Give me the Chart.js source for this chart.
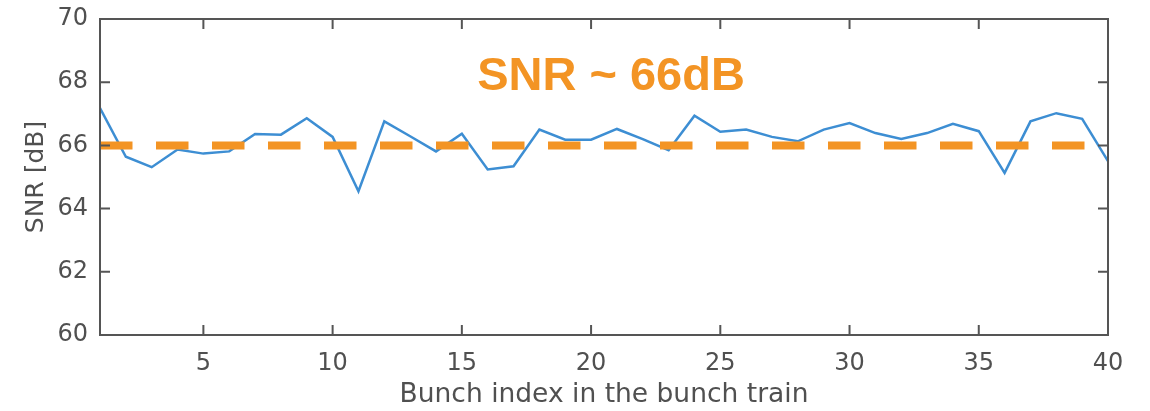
<!DOCTYPE html>
<html>
<head>
<meta charset="utf-8">
<script src="https://cdn.jsdelivr.net/npm/chart.js@4/dist/chart.umd.min.js"></script>
<style>
    body { margin: 0; background: #fff; }
    #wrap { width: 1150px; height: 411px; }
</style>
</head>
<body>
<div id="wrap"><canvas id="snrChart" width="1150" height="411"></canvas></div>
<script>
// Bunch-by-bunch SNR along the train
const bunchIndex = [1, 2, 3, 4, 5, 6, 7, 8, 9, 10, 11, 12, 13, 14, 15, 16, 17, 18, 19, 20,
                    21, 22, 23, 24, 25, 26, 27, 28, 29, 30, 31, 32, 33, 34, 35, 36, 37, 38, 39, 40];
const snrValues = [67.18, 65.64, 65.31, 65.87, 65.74, 65.81, 66.36, 66.34, 66.86, 66.27,
                   64.55, 66.76, 66.29, 65.81, 66.37, 65.24, 65.34, 66.50, 66.18, 66.18,
                   66.52, 66.20, 65.85, 66.94, 66.43, 66.50, 66.27, 66.13, 66.50, 66.71,
                   66.39, 66.20, 66.39, 66.68, 66.45, 65.13, 66.76, 67.02, 66.84, 65.50];
const snrLevel = 66;   // average level, dashed line + headline
const xTicks = [5, 10, 15, 20, 25, 30, 35, 40];
const yTicks = [60, 62, 64, 66, 68, 70];

const orange = '#f39424';
const frameColor = '#555555';
const labelColor = '#505050';

// MATLAB-style box with inward ticks, plus the headline text
const boxPlugin = {
    id: 'boxPlugin',
    afterDatasetsDraw(chart) {
        const ctx = chart.ctx;
        const a = chart.chartArea;
        const xs = chart.scales.x, ys = chart.scales.y;
        const tick = 10;
        ctx.save();
        ctx.strokeStyle = frameColor;
        ctx.lineWidth = 2;
        ctx.beginPath();
        xTicks.forEach(function(v) {
            const px = xs.getPixelForValue(v);
            ctx.moveTo(px, a.bottom); ctx.lineTo(px, a.bottom - tick);
            ctx.moveTo(px, a.top); ctx.lineTo(px, a.top + tick);
        });
        yTicks.forEach(function(v) {
            const py = ys.getPixelForValue(v);
            ctx.moveTo(a.left, py); ctx.lineTo(a.left + tick, py);
            ctx.moveTo(a.right, py); ctx.lineTo(a.right - tick, py);
        });
        ctx.stroke();
        ctx.strokeRect(a.left, a.top, a.right - a.left, a.bottom - a.top);

        ctx.fillStyle = orange;
        ctx.font = 'bold 47px "Liberation Sans", Arial, sans-serif';
        ctx.textAlign = 'center';
        ctx.textBaseline = 'alphabetic';
        ctx.fillText('SNR ~ ' + snrLevel + 'dB', 611, 90);
        ctx.restore();
    }
};

const ctx = document.getElementById('snrChart').getContext('2d');
const snrChart = new Chart(ctx, {
    type: 'line',
    data: {
        datasets: [
            {
                label: 'SNR level',
                data: [{x: bunchIndex[0], y: snrLevel}, {x: bunchIndex[bunchIndex.length - 1], y: snrLevel}],
                borderColor: orange,
                borderWidth: 8,
                borderDash: [32.5, 23.5],
                borderCapStyle: 'butt',
                pointRadius: 0,
                order: 0
            },
            {
                label: 'SNR',
                data: bunchIndex.map(function(b, i) { return {x: b, y: snrValues[i]}; }),
                borderColor: '#3d8ed3',
                borderWidth: 2.5,
                pointRadius: 0,
                tension: 0,
                order: 1
            }
        ]
    },
    options: {
        responsive: false,
        animation: false,
        layout: { padding: { top: 19, right: 42, left: 0, bottom: 0 } },
        plugins: {
            legend: { display: false },
            tooltip: { enabled: false }
        },
        scales: {
            x: {
                type: 'linear',
                min: 1,
                max: 40,
                afterBuildTicks: function(scale) {
                    scale.ticks = xTicks.map(function(v) { return {value: v}; });
                },
                afterFit: function(scale) {
                    scale.height = 76;
                    scale.paddingLeft = 0;
                    scale.paddingRight = 0;
                },
                grid: { display: false, drawTicks: false },
                border: { display: false },
                ticks: {
                    padding: 14,
                    color: labelColor,
                    maxRotation: 0,
                    font: { family: '"DejaVu Sans", sans-serif', size: 24 }
                },
                title: {
                    display: true,
                    text: 'Bunch index in the bunch train',
                    color: labelColor,
                    padding: { top: 0, bottom: 0 },
                    font: { family: '"DejaVu Sans", sans-serif', size: 26.5 }
                }
            },
            y: {
                min: 60,
                max: 70,
                afterBuildTicks: function(scale) {
                    scale.ticks = yTicks.map(function(v) { return {value: v}; });
                },
                afterFit: function(scale) {
                    scale.width = 100;
                    scale.paddingTop = 0;
                    scale.paddingBottom = 0;
                },
                grid: { display: false, drawTicks: false },
                border: { display: false },
                ticks: {
                    padding: 12,
                    color: labelColor,
                    font: { family: '"DejaVu Sans", sans-serif', size: 24 }
                },
                title: {
                    display: true,
                    text: 'SNR [dB]',
                    color: labelColor,
                    padding: { top: 21, bottom: 0 },
                    font: { family: '"DejaVu Sans", sans-serif', size: 25 }
                }
            }
        }
    },
    plugins: [boxPlugin]
});
</script>
</body>
</html>
